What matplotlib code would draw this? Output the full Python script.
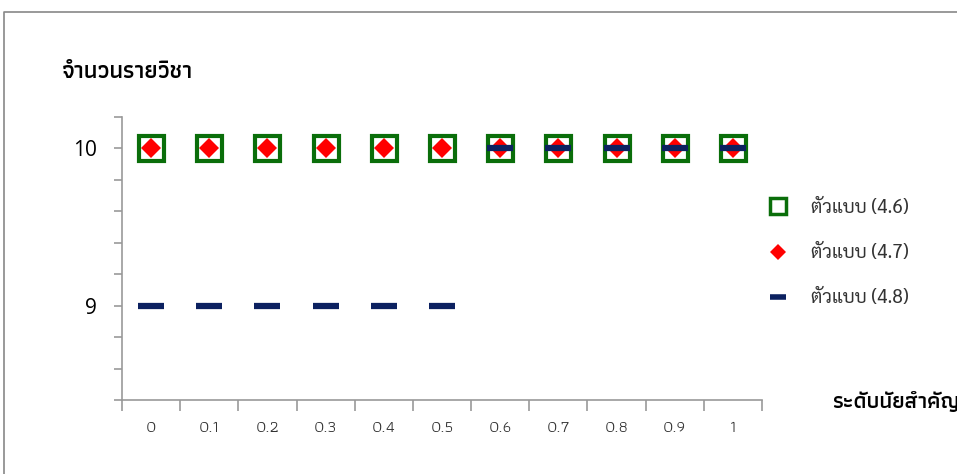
import matplotlib
matplotlib.use("Agg")
import matplotlib.pyplot as plt
from matplotlib.lines import Line2D

thai_narrow = ['Athiti', 'Anuphan', 'DejaVu Sans']
thai_text = ['Sarabun', 'Noto Sans Thai', 'Anuphan', 'DejaVu Sans']
plt.rcParams['font.family'] = thai_text

# significance levels on the x axis, number of subjects on the y axis
levels = ["0", "0.1", "0.2", "0.3", "0.4", "0.5", "0.6", "0.7", "0.8", "0.9", "1"]
model_46 = [10, 10, 10, 10, 10, 10, 10, 10, 10, 10, 10]
model_47 = [10, 10, 10, 10, 10, 10, 10, 10, 10, 10, 10]
model_48 = [9, 9, 9, 9, 9, 9, 10, 10, 10, 10, 10]
series_names = ["ตัวแบบ (4.6)", "ตัวแบบ (4.7)", "ตัวแบบ (4.8)"]

fig = plt.figure(figsize=(9.57, 4.74), dpi=100)
ax = fig.add_axes([122/957, 1-400/474, 640/957, 283/474])

x = list(range(len(levels)))
ax.plot(x, model_46, ls='none', marker='s', ms=18, mfc='white', mec='#0a6e0a', mew=3)
ax.plot(x, model_47, ls='none', marker='D', ms=10, mfc='red', mec='red', mew=0)
ax.plot(x, model_48, ls='none', marker='_', ms=19, mec='#0c2160', mew=4.5)

ax.set_xlim(-0.5, len(levels) - 0.5)
ax.set_ylim(8.4, 10.2)
ax.set_yticks([9, 10])
ax.set_yticklabels(["9", "10"], fontsize=15, family=['Open Sans'])
ax.set_yticks([8.4 + 0.2*i for i in range(10)], minor=True)
ax.set_xticks(x)
ax.set_xticklabels(levels, fontsize=12, color='#333333', family=thai_narrow)
ax.set_xticks([i - 0.5 for i in range(len(levels) + 1)], minor=True)
ax.tick_params(axis='x', which='major', length=0, pad=15)
ax.tick_params(axis='x', which='minor', length=8, color='#999999', width=1.2, direction='out')
ax.tick_params(axis='y', which='both', length=6, color='#999999', width=1.2, direction='out')
ax.tick_params(axis='y', which='major', pad=12)
for s in ['top', 'right']:
    ax.spines[s].set_visible(False)
for s in ['left', 'bottom']:
    ax.spines[s].set_color('#999999')
    ax.spines[s].set_linewidth(1.2)

fig.text(62/957, 1-72/474, "จำนวนรายวิชา", fontsize=17, fontweight='semibold', va='center',
         family=thai_narrow)
fig.text(832/957, 1-402/474, "ระดับนัยสำคัญ", fontsize=16, fontweight='semibold', va='center',
         family=thai_narrow)

handles = [
    Line2D([], [], ls='none', marker='s', ms=11, mfc='white', mec='#0a6e0a', mew=2.5),
    Line2D([], [], ls='none', marker='D', ms=8, mfc='red', mec='red', mew=0),
    Line2D([], [], ls='none', marker='_', ms=12, mec='#0c2160', mew=4),
]
fig.legend(handles, series_names, loc='upper left', bbox_to_anchor=(742/957, 1-182/474),
           frameon=False, fontsize=13.5, labelspacing=1.45, handletextpad=0.8,
           labelcolor='#333333')

# outer chart frame
fig.add_artist(Line2D([4/957, 4/957, 1], [0, 1-12/474, 1-12/474], transform=fig.transFigure,
                      color='#888888', lw=1.2))

fig.savefig("out.png")
